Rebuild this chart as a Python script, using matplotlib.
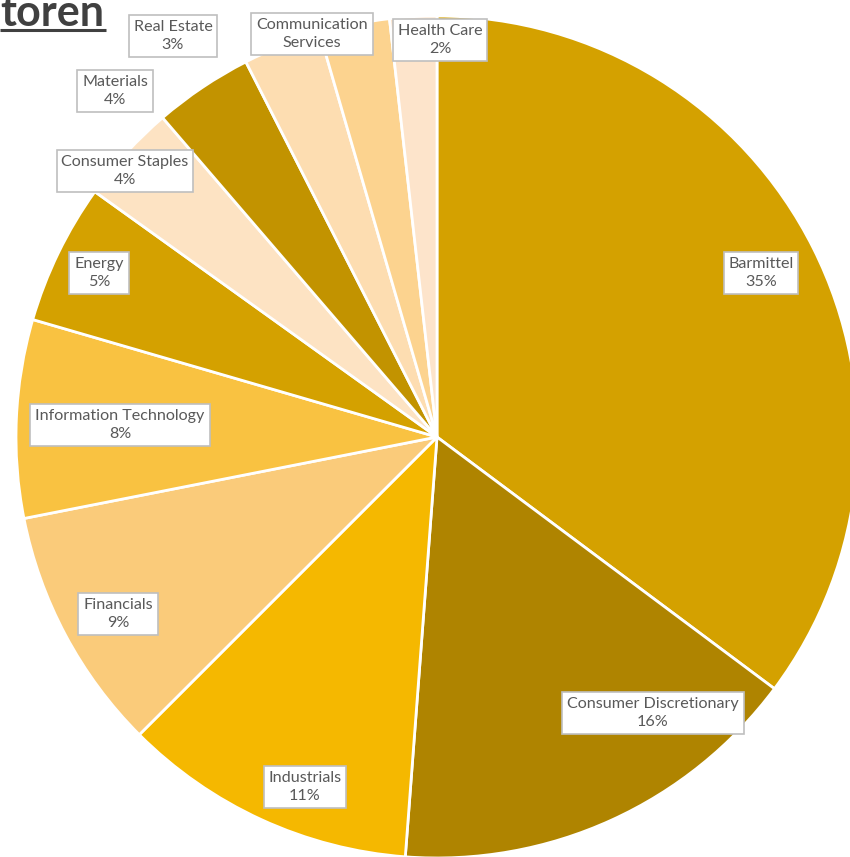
import matplotlib
matplotlib.use("Agg")
import matplotlib.pyplot as plt

# Sektoren-Aufteilung (im Uhrzeigersinn ab 12 Uhr)
SECTORS = [
    "Barmittel",
    "Consumer Discretionary",
    "Industrials",
    "Financials",
    "Information Technology",
    "Energy",
    "Consumer Staples",
    "Materials",
    "Real Estate",
    "Communication\nServices",
    "Health Care",
]
SHARES = [35.2, 16.0, 11.3, 9.4, 7.6, 5.4, 3.8, 3.8, 3.0, 2.7, 1.8]
SHOW_PCT = [True, True, True, True, True, True, True, True, True, False, True]

COLORS = [
    "#D4A100", "#AF8400", "#F5B800", "#FACB7A", "#F9C241", "#D4A100",
    "#FDE3C3", "#C29300", "#FDDDB1", "#FCD38F", "#FDE4CB",
]

# box centres in pixels from the top-left corner (layout only)
LABEL_POS = [
    (761, 273), (653, 713), (305, 787), (118, 614), (120, 425), (99, 273),
    (125, 171), (115, 91), (173, 36), (312, 34), (440, 40),
]

W, H = 850, 857
CX, CY, R = 437, 437, 421


def main():
    plt.rcParams['font.family'] = ['Lato', 'DejaVu Sans']
    fig = plt.figure(figsize=(W / 100, H / 100), dpi=100)
    ax = fig.add_axes([0, 0, 1, 1])

    ax.pie(SHARES, colors=COLORS, startangle=90, counterclock=False,
           center=(CX, H - CY), radius=R,
           wedgeprops=dict(edgecolor='white', linewidth=2))

    total = sum(SHARES)
    for name, val, show, (px, py) in zip(SECTORS, SHARES, SHOW_PCT, LABEL_POS):
        txt = f"{name}\n{round(val / total * 100):.0f}%" if show else name
        ax.text(px, H - py, txt, ha='center', va='center', fontsize=11.6,
                color='#595959', linespacing=1.4,
                bbox=dict(boxstyle='square,pad=0.3', facecolor='white',
                          edgecolor='#BFBFBF', linewidth=1.2))

    ax.set_xlim(0, W)
    ax.set_ylim(0, H)
    ax.set_aspect('auto')
    ax.axis('off')

    # title fragment as visible in the source (cut at the top edge there too)
    title = ax.text(0, H - 26, "toren", ha='left', va='baseline', fontsize=31,
                    fontweight='bold', color='#404040')
    fig.canvas.draw()
    ext = title.get_window_extent()
    ax.plot([0, ext.x1 + 2], [H - 30, H - 30], color='#404040', linewidth=2.2,
            solid_capstyle='butt')

    fig.savefig('out.png', dpi=100, facecolor='white')


if __name__ == "__main__":
    main()
